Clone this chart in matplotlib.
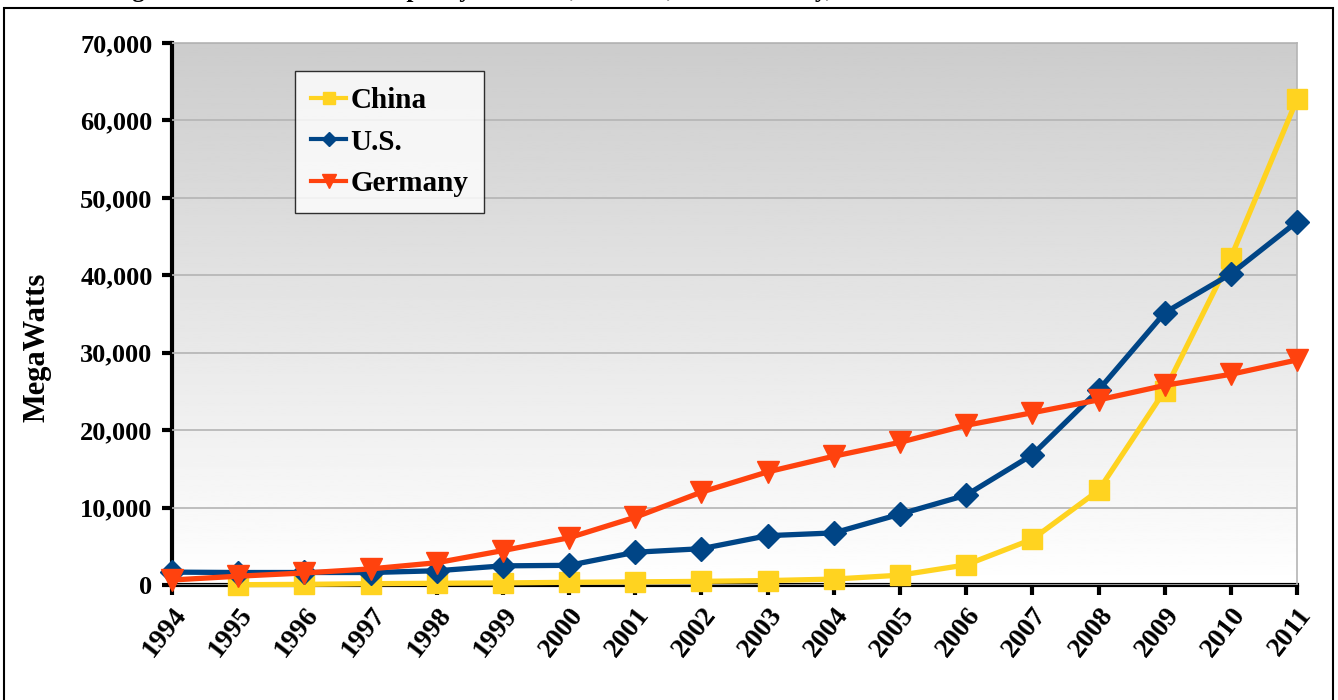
import numpy as np
import matplotlib.pyplot as plt
from matplotlib.patches import Rectangle
from matplotlib.ticker import FuncFormatter

years = list(range(1994, 2012))
china_years = years[1:]
china = [38, 79, 170, 224, 268, 346, 402, 469, 568, 764, 1266, 2599, 5912, 12210, 25104, 42287, 62733]
us = [1663, 1612, 1614, 1611, 1837, 2472, 2539, 4232, 4687, 6370, 6725, 9149, 11603, 16819, 25170, 35159, 40180, 46919]
germany = [643, 1137, 1552, 2080, 2875, 4445, 6104, 8754, 11994, 14609, 16629, 18428, 20622, 22247, 23903, 25777, 27214, 29060]
series_names = ['China', 'U.S.', 'Germany']

plt.rcParams['font.family'] = ['Liberation Serif', 'DejaVu Serif']
plt.rcParams['font.weight'] = 'bold'

fig = plt.figure(figsize=(13.38, 7.0), dpi=100)
ax = fig.add_axes([0.1286, 0.1643, 0.8408, 0.7743])

# outer frame and the clipped caption line above it
fig.patches.append(Rectangle((4 / 1338, -0.05), 1329 / 1338, 1 - 8 / 700 + 0.05,
                             transform=fig.transFigure, fill=False, edgecolor='black', lw=1.5))
fig.text(110 / 1338, 1 + 3.5 / 700, 'Figure 1. Installed Wind Capacity in China, the U.S., and Germany, 1994-2011',
         fontsize=18, va='baseline', ha='left')

# gradient background: light grey at top fading to white at the bottom
grad = np.linspace(1.0, 0.80, 256).reshape(-1, 1)
ax.imshow(grad, cmap='gray', vmin=0, vmax=1, aspect='auto', origin='lower',
          extent=[0, 1, 0, 1], transform=ax.transAxes, zorder=0)

ax.set_xlim(1994, 2011)
ax.set_ylim(0, 70000)
ax.set_yticks(range(0, 70001, 10000))
ax.yaxis.set_major_formatter(FuncFormatter(lambda v, p: f'{int(v):,}'))
ax.set_xticks(years)
ax.set_xticklabels([str(y) for y in years], rotation=52, ha='right', va='top',
                   rotation_mode='anchor')
ax.grid(axis='y', color='#b4b4b4', lw=1.2, zorder=1)
ax.set_axisbelow(False)

ax.plot(china_years, china, color='#ffd320', lw=3.8, marker='s', ms=14, label=series_names[0],
        zorder=3, clip_on=False)
ax.plot(years, us, color='#004586', lw=3.8, marker='D', ms=12, label=series_names[1],
        zorder=4, clip_on=False)
ax.plot(years, germany, color='#ff420e', lw=3.8, marker='v', ms=16, label=series_names[2],
        zorder=5, clip_on=False)

for s in ['top', 'right']:
    ax.spines[s].set_color('#b4b4b4')
    ax.spines[s].set_linewidth(1.2)
for s in ['left', 'bottom']:
    ax.spines[s].set_color('black')
    ax.spines[s].set_linewidth(3)
    ax.spines[s].set_zorder(2)

ax.tick_params(axis='y', length=7, width=3, labelsize=19, pad=7)
ax.tick_params(axis='x', length=7, width=3, labelsize=20, pad=6)

fig.text(37 / 1338, 1 - 347 / 700, 'MegaWatts', rotation=90, fontsize=22,
         ha='center', va='center')

leg = ax.legend(loc='upper left', bbox_to_anchor=((295 - 172) / 1125, 1 - (71 - 43) / 542),
                fontsize=21, frameon=True, fancybox=False, handlelength=1.2,
                handletextpad=0.15, borderpad=0.55, labelspacing=0.5, markerscale=0.6,
                borderaxespad=0)
leg.get_frame().set_edgecolor('black')
leg.get_frame().set_linewidth(1)
for h in leg.get_lines():
    h.set_linewidth(3)

fig.savefig('out.png', dpi=100)
